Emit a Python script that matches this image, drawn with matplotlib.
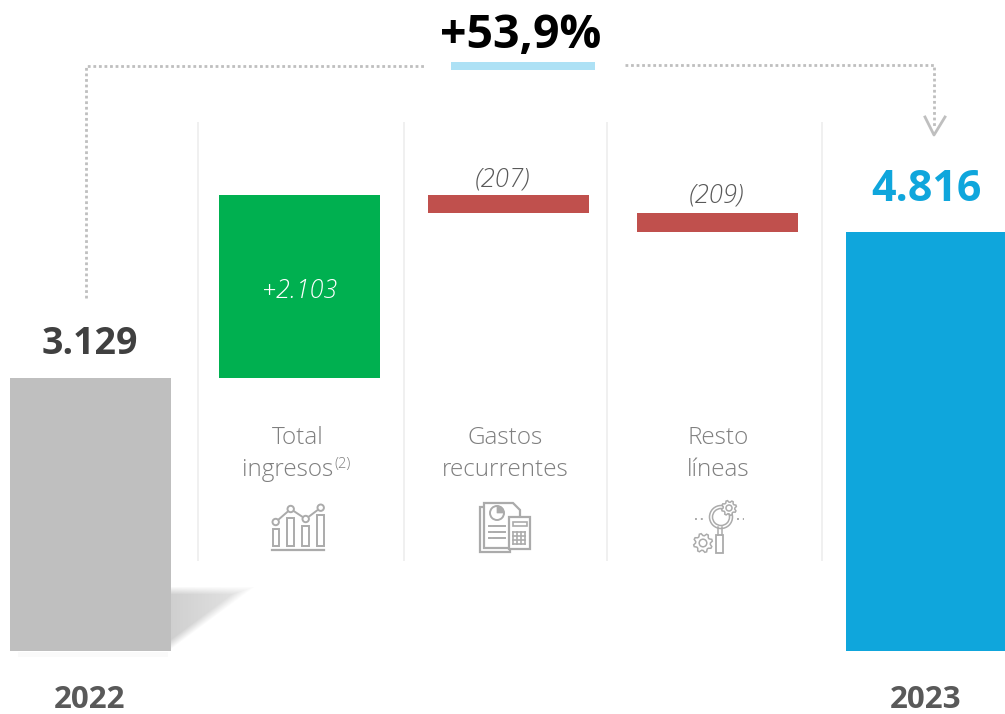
import numpy as np
import matplotlib
matplotlib.use('Agg')
import matplotlib.pyplot as plt
from matplotlib.patches import Circle, Rectangle, Polygon, Wedge

plt.rcParams['font.family'] = ['Open Sans', 'DejaVu Sans']

# Data
start_label = '2022'
end_label = '2023'
start_value = 3129
end_value = 4816
step_names = ['Total\ningresos', 'Gastos\nrecurrentes', 'Resto\nlíneas']
step_values = [2103, -207, -209]
step_labels = ['+2.103', '(207)', '(209)']
growth_label = '+53,9%'

# Colours
GREY_BAR = '#BFBFBF'
BLUE_BAR = '#0FA6DC'
GREEN_BAR = '#00B050'
RED_BAR = '#C0504D'
ICON = '#ABABAB'
DOTS = '#BFBFBF'
RULE = '#F0F0F0'

fig = plt.figure(figsize=(10.05, 7.14), dpi=100)

# value axis: zero sits at pixel row 651
px_per_unit = 0.0871
ax = fig.add_axes([0, 0, 1, 1])
ax.set_xlim(0, 1005)
ax.set_ylim(-(714 - 651) / px_per_unit, 651 / px_per_unit)
ax.axis('off')

# overlay in pixel coords for annotations
ov = fig.add_axes([0, 0, 1, 1], facecolor='none')
ov.set_xlim(0, 1005)
ov.set_ylim(714, 0)
ov.axis('off')

# shadow behind the 2022 bar
sx, sy = np.meshgrid(np.arange(171, 262), np.arange(580, 662))
d_top = sy - 590.0
nx, ny = 55.0, 74.0
d_hyp = ((243 - sx) * nx + (590 - sy) * ny) / np.hypot(nx, ny)
alpha = np.clip((np.minimum(d_top, d_hyp) + 4) / 8, 0, 1)
alpha = alpha * np.clip(1.0 - (sx - 171) / 170, 0, 1) * 0.62
shadow = np.zeros(sx.shape + (4,))
shadow[..., :3] = 0.7
shadow[..., 3] = alpha
ov.imshow(shadow, extent=(171, 262, 662, 580), interpolation='bilinear', aspect='auto', zorder=0)
ov.set_xlim(0, 1005)
ov.set_ylim(714, 0)
ov.add_patch(Rectangle((18, 652), 150, 5, color='#FAFAFA', lw=0, zorder=0))

# separators
for x in [198, 404, 607, 822]:
    ov.plot([x, x], [123, 560], color=RULE, lw=1.4, zorder=1)

# bars
ax.set_zorder(2)
ov.set_zorder(3)
ax.patch.set_visible(False)
ax.bar(90.5, start_value, width=161, color=GREY_BAR)
ax.bar(925.5, end_value, width=159, color=BLUE_BAR)
step_x = [299.5, 508, 717]
step_w = 161
running = start_value
for i in range(len(step_values)):
    v = step_values[i]
    ax.bar(step_x[i], abs(v), width=step_w, bottom=min(running, running + v),
           color=GREEN_BAR if v > 0 else RED_BAR)
    running += v

# connector
ov.plot([86, 86, 424], [298, 66, 66], color=DOTS, lw=2, ls=(0, (1, 1)))
ov.plot([625, 934, 934], [65, 65, 128], color=DOTS, lw=2, ls=(0, (1, 1)))
ov.plot([925, 934, 945], [117, 135, 117], color=DOTS, lw=2)
ov.add_patch(Rectangle((451, 62), 144, 8, color='#ADE1F5', lw=0))

# big labels
ov.text(521, 36, growth_label, ha='center', va='center', fontsize=33.5, fontweight='bold', color='black')
ov.text(90, 344.5, f'{start_value:,}'.replace(',', '.'), ha='center', va='center', fontsize=27,
        fontweight='bold', color='#404040')
ov.text(926, 189.5, f'{end_value:,}'.replace(',', '.'), ha='center', va='center', fontsize=31,
        fontweight='bold', color=BLUE_BAR)
ov.text(90, 700, start_label, ha='center', va='center', fontsize=22.5, fontweight='bold', color='#595959')
ov.text(926, 700, end_label, ha='center', va='center', fontsize=22.5, fontweight='bold', color='#595959')

# step labels
ov.text(300, 292, step_labels[0], ha='center', va='center', fontsize=18.2, style='italic', fontweight='light',
        color='white')
ov.text(503, 180, step_labels[1], ha='center', va='center', fontsize=18.5, style='italic', fontweight='light',
        color='#595959')
ov.text(717, 196, step_labels[2], ha='center', va='center', fontsize=18.5, style='italic', fontweight='light',
        color='#595959')

# step names
name_x = [298, 505, 718]
for i in range(3):
    top, bottom = step_names[i].split('\n')
    ov.text(name_x[i], 438.5, top, ha='center', va='center', fontsize=17.5, fontweight='light', color='#7F7F7F')
    ov.text(name_x[i] - (10 if i == 0 else 0), 470.5, bottom, ha='center', va='center', fontsize=17.5,
            fontweight='light', color='#7F7F7F')
ov.text(334, 464, '(2)', ha='left', va='center', fontsize=10.5, fontweight='light', color='#7F7F7F')


def gear(cx, cy, r, teeth=8):
    angles = np.linspace(0, 2 * np.pi, teeth * 4, endpoint=False)
    radii = np.tile([r * 0.78, r * 0.78, r, r], teeth)
    pts = np.c_[cx + radii * np.cos(angles), cy + radii * np.sin(angles)]
    ov.add_patch(Polygon(pts, closed=True, fc='white', ec=ICON, lw=1.1))
    ov.add_patch(Circle((cx, cy), r * 0.4, fc='white', ec=ICON, lw=1.1))


# chart icon
for x0, top, w in [(272.7, 529, 6), (287, 518, 7), (302, 526, 7), (317, 515, 7)]:
    ov.add_patch(Rectangle((x0, top), w, 546 - top, fc='none', ec=ICON, lw=1.4))
ov.plot([272, 324], [550, 550], color=ICON, lw=1.6)
cx = [275.7, 290.7, 305.7, 320.7]
cy = [522, 509, 519, 507.7]
ov.plot(cx, cy, color=ICON, lw=1.4)
for a, b in zip(cx, cy):
    ov.add_patch(Circle((a, b), 3.2, fc='white', ec=ICON, lw=1.4, zorder=5))

# document icon
ov.add_patch(Rectangle((480, 507), 30, 45, fc='white', ec=ICON, lw=1.6))
ov.add_patch(Polygon([(484, 503), (513, 503), (520, 510), (520, 548), (484, 548)], fc='white', ec=ICON, lw=1.6))
ov.add_patch(Circle((497, 513), 7, fc='white', ec=ICON, lw=1.4))
ov.add_patch(Wedge((497, 513), 7, 270, 360, fc=ICON, ec=ICON, lw=0.5))
for y in [526, 532, 538]:
    ov.plot([489, 491], [y, y], color=ICON, lw=1.4)
    ov.plot([493, 505], [y, y], color=ICON, lw=1.4)
ov.add_patch(Rectangle((509, 517), 21, 32, fc='white', ec=ICON, lw=1.6))
ov.add_patch(Rectangle((513, 522), 14, 4, fc='white', ec=ICON, lw=1.2))
for x in [513, 517, 521, 525]:
    ov.plot([x, x], [532, 544], color=ICON, lw=1.2)
for y in [532, 536, 540, 544]:
    ov.plot([513, 525], [y, y], color=ICON, lw=1.2)

# magnifier icon
ov.add_patch(Rectangle((716, 535), 7, 18, fc='white', ec=ICON, lw=1.3))
ov.plot([718, 718], [527, 535], color=ICON, lw=1.1)
ov.plot([722, 722], [527, 535], color=ICON, lw=1.1)
ov.add_patch(Circle((721, 517), 11.5, fc='white', ec=ICON, lw=1.1))
ov.add_patch(Circle((721, 517), 8.5, fc='white', ec=ICON, lw=1.1))
gear(729, 508, 7.5)
gear(703, 543, 9.5)
ov.plot([695, 703], [519, 519], color=ICON, lw=1.4, ls=(0, (1, 2)))
ov.plot([737, 744], [519, 519], color=ICON, lw=1.4, ls=(0, (1, 2)))

plt.savefig('out.png', dpi=100)
